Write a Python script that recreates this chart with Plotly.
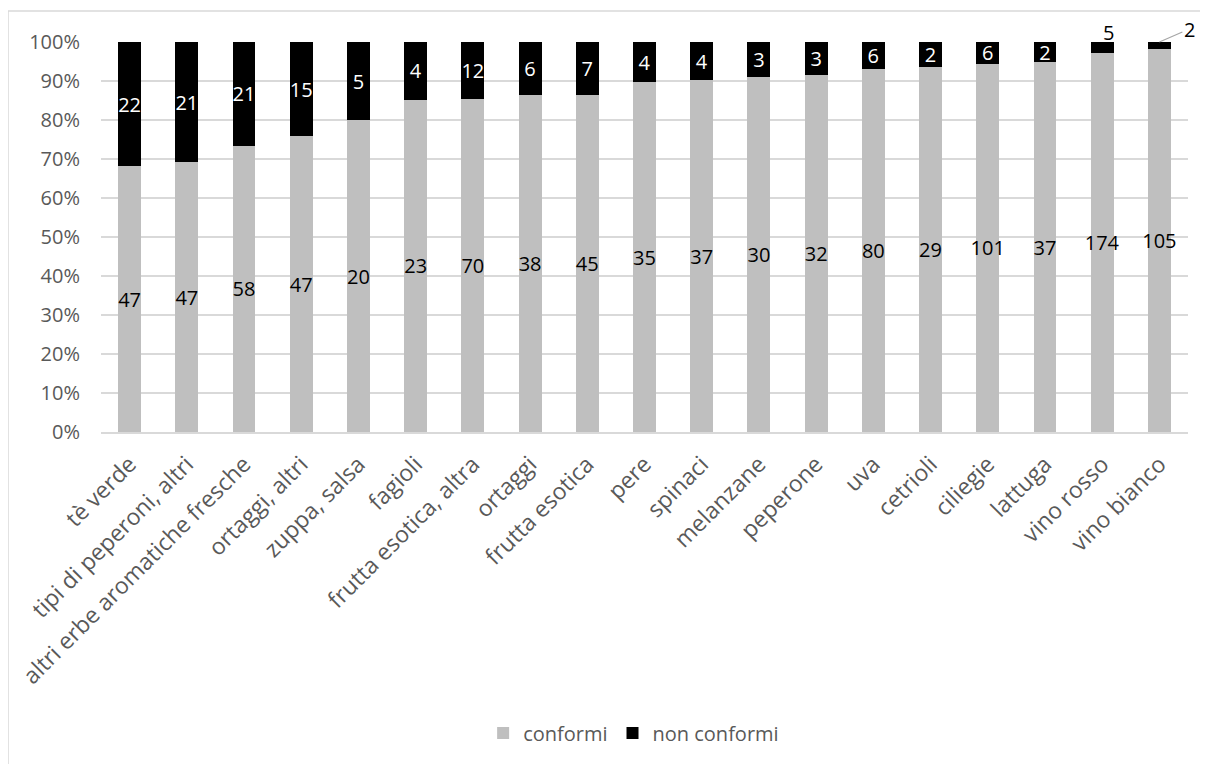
import plotly.graph_objects as go

categories = ["tè verde", "tipi di peperoni, altri", "altri erbe aromatiche fresche",
              "ortaggi, altri", "zuppa, salsa", "fagioli", "frutta esotica, altra",
              "ortaggi", "frutta esotica", "pere", "spinaci", "melanzane", "peperone",
              "uva", "cetrioli", "ciliegie", "lattuga", "vino rosso", "vino bianco"]
conformi = [47, 47, 58, 47, 20, 23, 70, 38, 45, 35, 37, 30, 32, 80, 29, 101, 37, 174, 105]
non_conformi = [22, 21, 21, 15, 5, 4, 12, 6, 7, 4, 4, 3, 3, 6, 2, 6, 2, 5, 2]
tick_vals = [0, 10, 20, 30, 40, 50, 60, 70, 80, 90, 100]
tick_text = [f"{v}%" for v in tick_vals]

FONT = "Open Sans, Lato, sans-serif"
outside_labels = {"vino rosso", "vino bianco"}

nc_text = ["" if c in outside_labels else str(v) for c, v in zip(categories, non_conformi)]

fig = go.Figure()
fig.add_trace(go.Bar(
    x=categories, y=conformi, name="conformi",
    marker=dict(color="#bfbfbf", line=dict(width=0)),
    text=[str(v) for v in conformi], textposition="inside",
    insidetextanchor="middle", textangle=0,
    textfont=dict(color="#000000", size=20, family=FONT),
))
fig.add_trace(go.Bar(
    x=categories, y=non_conformi, name="non conformi",
    marker=dict(color="#000000", line=dict(width=0)),
    text=nc_text, textposition="inside",
    insidetextanchor="middle", textangle=0,
    textfont=dict(color="#ffffff", size=20, family=FONT),
))

# outside labels for the thin segments
idx_r = categories.index("vino rosso")
idx_b = categories.index("vino bianco")
fig.add_annotation(x=categories[idx_r], y=100, text=str(non_conformi[idx_r]),
                   showarrow=False, xshift=6, yshift=10, xanchor="center", yanchor="middle",
                   font=dict(size=20, family=FONT, color="#000000"))
fig.add_annotation(x=categories[idx_b], y=100, text=str(non_conformi[idx_b]),
                   showarrow=True, arrowhead=0, arrowwidth=1.2, arrowcolor="#a6a6a6",
                   standoff=0, ax=30, ay=-13,
                   font=dict(size=20, family=FONT, color="#000000"))

fig.update_layout(
    barmode="stack", barnorm="percent", bargap=0.6,
    width=1208, height=764,
    margin=dict(l=93, r=28, t=34, b=340, autoexpand=False),
    paper_bgcolor="white", plot_bgcolor="white",
    font=dict(family=FONT, color="#595959", size=20),
    uniformtext=dict(minsize=20, mode="show"),
    showlegend=True,
    legend=dict(orientation="h", x=0.49, xanchor="center", y=-0.772, yanchor="middle",
                font=dict(size=20, color="#595959", family=FONT), traceorder="normal",
                itemwidth=30),
    xaxis=dict(type="category", tickangle=-45, showgrid=False, showline=True,
               linecolor="#d9d9d9", linewidth=1.5, ticks="", automargin=False,
               ticklabelstandoff=8,
               tickfont=dict(size=23, color="#595959", family=FONT),
               range=[-0.5, len(categories) - 0.5]),
    yaxis=dict(range=[0, 100], tickvals=tick_vals, ticktext=tick_text, automargin=False,
               showgrid=True, gridcolor="#d9d9d9", gridwidth=1.5, zeroline=False,
               showline=False, ticks="", ticklabelstandoff=20,
               tickfont=dict(size=20, color="#595959", family=FONT)),
)
fig.add_shape(type="rect", xref="paper", yref="paper",
              x0=-93 / 1087, x1=1.2, y0=-1.2, y1=1 + 31 / 390,
              line=dict(color="#d9d9d9", width=1.5), fillcolor="rgba(0,0,0,0)", layer="below")

fig.write_html("out.html")
